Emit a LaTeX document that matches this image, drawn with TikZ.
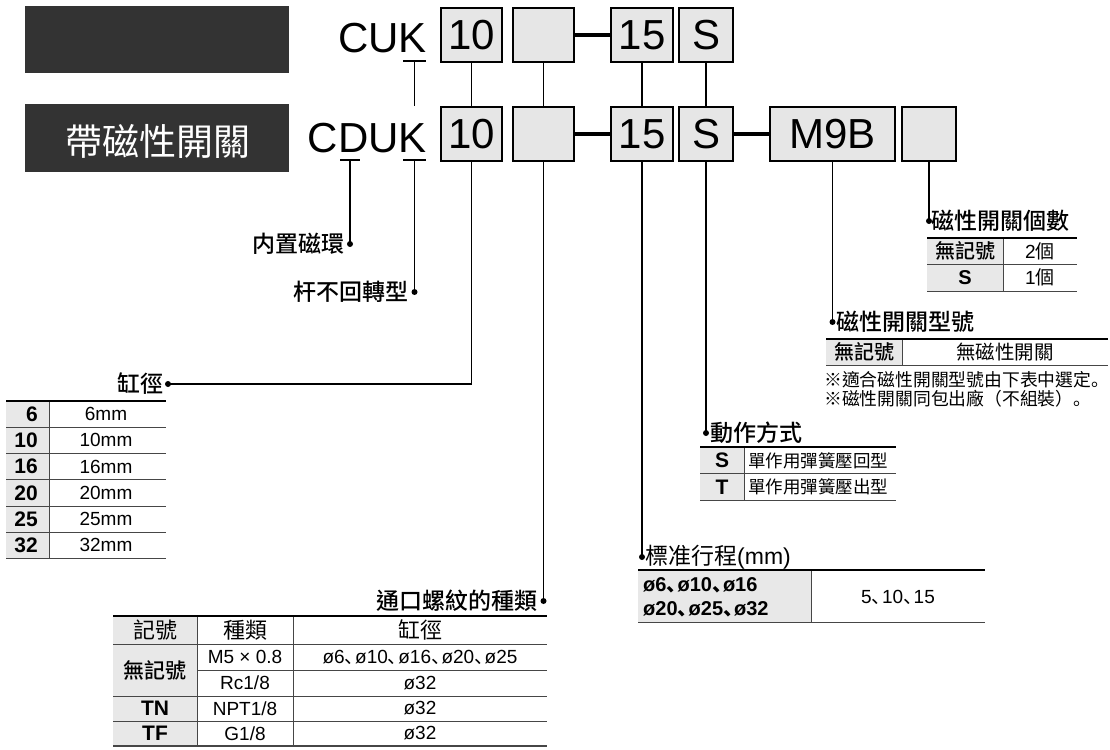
\documentclass[tikz,border=0pt]{standalone}
\usepackage{fontspec}
\setmainfont{Liberation Sans}
\newfontfamily\cjk{Noto Sans CJK TC}[BoldFont={Noto Sans CJK TC Medium}]
\newfontfamily\cjksc{Noto Sans CJK SC}
\usetikzlibrary{positioning}
\definecolor{boxfill}{RGB}{230,230,230}
\definecolor{cellfill}{RGB}{232,232,232}
\definecolor{darkfill}{RGB}{51,51,51}
\definecolor{rulegray}{RGB}{70,70,70}
\newcommand\setfs[1]{\fontsize{#1pt}{#1pt}\selectfont}
\newcommand\dun{\makebox[0.55em][l]{\cjksc 、}}
\newcommand\juhao{{\cjksc 。}}

\begin{document}
\begin{tikzpicture}[x=1pt, y=-1pt,
  codebox/.style={draw, line width=1.6pt, fill=boxfill, minimum height=54pt, inner sep=0pt, font=\setfs{42}},
  darkbox/.style={fill=darkfill, minimum width=264pt, minimum height=68pt, inner sep=0pt},
  lead/.style={line width=1.5pt},
  link/.style={line width=3.5pt},
  thickrule/.style={line width=2.6pt},
  thinrule/.style={line width=0.9pt, rulegray},
  title/.style={font={\cjk\bfseries\setfs{23}}, inner sep=0pt},
  cell/.style={font=\setfs{19}, inner sep=0pt},
  boldcell/.style={font={\bfseries\setfs{21}}, inner sep=0pt},
  cjkcell/.style={font={\cjk\setfs{19}}, inner sep=0pt},
  cjkbold/.style={font={\cjk\bfseries\setfs{21}}, inner sep=0pt}]
  \useasboundingbox (0,0) rectangle (1110,749);

  % model code rows
  \node[darkbox, minimum height=67pt] (band1) at (157,39.5) {};
  \node[darkbox] (band2) at (157,138) {};
  \node[text=white, font={\cjk\setfs{37}}, inner sep=0pt] (bandtxt) at (158,141) {帶磁性開關};
  \node[font=\setfs{42}, anchor=base east, inner sep=0pt] (cuk) at (427,53) {CUK};
  \node[font=\setfs{42}, anchor=base east, inner sep=0pt] (cduk) at (427,152) {CDUK};

  \node[codebox, minimum width=61pt] (t10) at (471.5,35) {10};
  \node[codebox, minimum width=61pt] (tblank) at (543.5,35) {};
  \node[codebox, minimum width=62pt] (t15) at (642,35) {15};
  \node[codebox, minimum width=54pt] (tS) at (706,35) {S};

  \node[codebox, minimum width=61pt] (b10) at (471.5,134) {10};
  \node[codebox, minimum width=61pt] (bblank) at (543.5,134) {};
  \node[codebox, minimum width=62pt] (b15) at (642,134) {15};
  \node[codebox, minimum width=54pt] (bS) at (706,134) {S};
  \node[codebox, minimum width=125pt] (bM) at (832.5,134) {M9B};
  \node[codebox, minimum width=54pt] (bX) at (929,134) {};

  \draw[link] (tblank.east) -- (t15.west);
  \draw[link] (bblank.east) -- (b15.west);
  \draw[link] (bS.east) -- (bM.west);
  \foreach \a/\b in {t10/b10, tblank/bblank, t15/b15, tS/bS}
    \draw[lead] (\a.south) -- (\b.north);

  % underlined letters
  \coordinate (kTop) at (414.5,61);
  \coordinate (dU) at (350,160);
  \coordinate (kU) at (414.5,160);
  \draw[lead] (403,61) -- (426,61);
  \draw[lead] (340,160) -- (360,160);
  \draw[lead] (403,160) -- (426,160);
  \draw[lead] (kTop) -- (kTop |- b10.north);

  % leads to the item labels
  \coordinate (dMag) at (350,244);
  \coordinate (dRod) at (414.5,292);
  \coordinate (dBore) at (168,384);
  \coordinate (dPort) at (543.5,601);
  \coordinate (dStroke) at (642,557);
  \coordinate (dAct) at (706,433);
  \coordinate (dSw) at (832.5,322);
  \coordinate (dNum) at (929,221);
  \draw[lead] (dU) -- (dMag);
  \draw[lead] (kU) -- (dRod);
  \draw[lead] (b10.south) |- (dBore);
  \draw[lead] (bblank.south) -- (dPort);
  \draw[lead] (b15.south) -- (dStroke);
  \draw[lead] (bS.south) -- (dAct);
  \draw[lead] (bM.south) -- (dSw);
  \draw[lead] (bX.south) -- (dNum);
  \foreach \d in {dMag,dRod,dBore,dPort,dStroke,dAct,dSw,dNum} { \fill (\d) circle (3pt); }

  \node[title, left=5pt of dMag] (lMag) {内置磁環};
  \node[title, left=6pt of dRod] (lRod) {杆不回轉型};
  \node[title, left=4pt of dBore] (lBore) {缸徑};
  \node[title, left=6pt of dPort] (lPort) {通口螺紋的種類};
  \node[title, right=3pt of dStroke, font=\setfs{23}] (lStroke) {{\cjk 標准行程}(mm)};
  \node[title, right=4pt of dAct] (lAct) {動作方式};
  \node[title, right=4pt of dSw] (lSw) {磁性開關型號};
  \node[title, right=2pt of dNum] (lNum) {磁性開關個數};

  % bore size table
  \fill[cellfill] (6,401) rectangle (49,558);
  \foreach \y in {427,453,479,506,532,558} { \draw[thinrule] (6,\y) -- (166,\y); }
  \draw[thinrule] (49,401) -- (49,558);
  \draw[thickrule] (6,401) -- (166,401);
  \foreach \n [count=\i] in {6,10,16,20,25,32} {
    \node[boldcell, anchor=east] (bn\i) at (38,{388+26.2*\i}) {\n};
    \node[cell] (bv\i) at (106,{388+26.2*\i}) {\n mm};
  }

  % port thread table
  \fill[cellfill] (113,616) rectangle (197,746);
  \foreach \y in {644,696,721} { \draw[thinrule] (113,\y) -- (547,\y); }
  \draw[thinrule] (197,670) -- (547,670);
  \draw[thinrule] (197,616) -- (197,746);
  \draw[thinrule] (293,616) -- (293,746);
  \draw[thickrule] (113,616) -- (547,616);
  \draw[line width=1.6pt, rulegray] (113,746) -- (547,746);
  \node[cjkcell, font={\cjk\setfs{22}}] (ph1) at (155,630) {記號};
  \node[cjkcell, font={\cjk\setfs{22}}] (ph2) at (245,630) {種類};
  \node[cjkcell, font={\cjk\setfs{22}}] (ph3) at (420,630) {缸徑};
  \node[cjkbold] (pn) at (155,670) {無記號};
  \node[cell] (pt1) at (245,657) {M5 × 0.8};
  \node[cell] (pb1) at (420,657) {ø6\dun ø10\dun ø16\dun ø20\dun ø25};
  \node[cell] (pt2) at (245,683) {Rc1/8};
  \node[cell] (pb2) at (420,683) {ø32};
  \node[boldcell] (pTN) at (155,708.5) {TN};
  \node[cell] (pt3) at (245,708.5) {NPT1/8};
  \node[cell] (pb3) at (420,708.5) {ø32};
  \node[boldcell] (pTF) at (155,733.5) {TF};
  \node[cell] (pt4) at (245,733.5) {G1/8};
  \node[cell] (pb4) at (420,733.5) {ø32};

  % stroke table
  \fill[cellfill] (638,570) rectangle (811,622);
  \draw[thinrule] (811,570) -- (811,622);
  \draw[thinrule] (638,622) -- (985,622);
  \draw[thickrule] (638,570) -- (985,570);
  \node[boldcell, font={\bfseries\setfs{20}}, anchor=west] (sz1) at (643,585) {ø6\dun ø10\dun ø16};
  \node[boldcell, font={\bfseries\setfs{20}}, anchor=west] (sz2) at (643,609) {ø20\dun ø25\dun ø32};
  \node[cell] (sv) at (898,597) {5\dun 10\dun 15};

  % action table
  \fill[cellfill] (700,447) rectangle (744,500);
  \draw[thinrule] (744,447) -- (744,500);
  \foreach \y in {473.5,500} { \draw[thinrule] (700,\y) -- (896,\y); }
  \draw[thickrule] (700,447) -- (896,447);
  \node[boldcell] (aS) at (722,460.5) {S};
  \node[boldcell] (aT) at (722,487) {T};
  \node[cjkcell, font={\cjk\setfs{17.5}}, anchor=west] (aS2) at (748,460.5) {單作用彈簧壓回型};
  \node[cjkcell, font={\cjk\setfs{17.5}}, anchor=west] (aT2) at (748,487) {單作用彈簧壓出型};

  % switch model table
  \fill[cellfill] (826,339) rectangle (902,365);
  \draw[thinrule] (902,339) -- (902,365);
  \draw[thinrule] (826,365) -- (1108,365);
  \draw[thickrule] (826,339) -- (1108,339);
  \node[cjkbold, font={\cjk\bfseries\setfs{20}}] (sw1) at (864,352) {無記號};
  \node[cjkcell, font={\cjk\setfs{19.5}}] (sw2) at (1005,352) {無磁性開關};
  \node[cjkcell, font={\cjk\setfs{17.8}}, anchor=west] (note1) at (824,380) {※適合磁性開關型號由下表中選定\juhao};
  \node[cjkcell, font={\cjk\setfs{17.8}}, anchor=west] (note2) at (824,399) {※磁性開關同包出廠（不組裝）\juhao};

  % switch quantity table
  \fill[cellfill] (927,238) rectangle (1003,291);
  \draw[thinrule] (1003,238) -- (1003,291);
  \foreach \y in {264,291} { \draw[thinrule] (927,\y) -- (1077,\y); }
  \draw[thickrule] (927,238) -- (1077,238);
  \node[cjkbold, font={\cjk\bfseries\setfs{20}}] (n1) at (965,251) {無記號};
  \node[boldcell, font={\bfseries\setfs{20}}] (n2) at (965,277.5) {S};
  \node[cell] (n3) at (1040,251) {2{\cjk 個}};
  \node[cell] (n4) at (1040,277.5) {1{\cjk 個}};
\end{tikzpicture}
\end{document}
